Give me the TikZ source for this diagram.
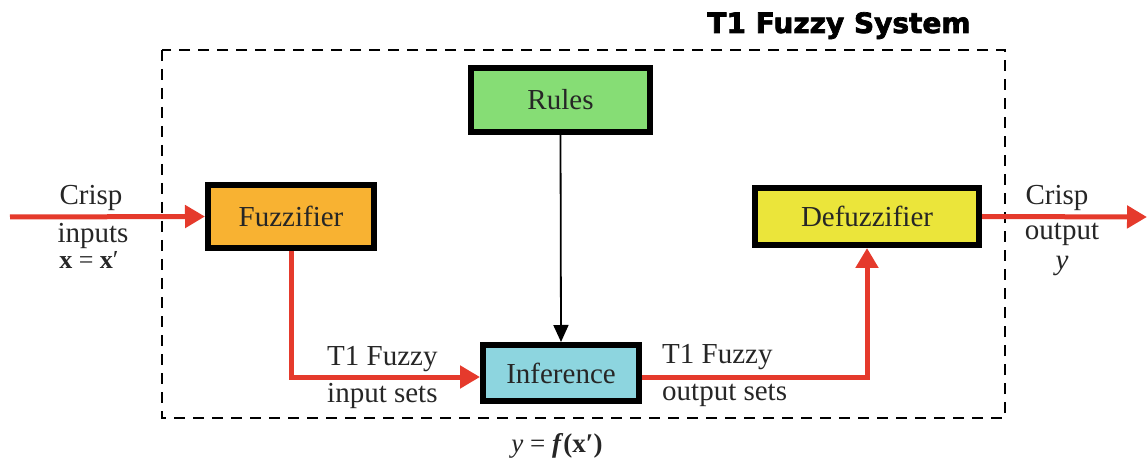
\documentclass[tikz,border=0pt]{standalone}
\usepackage{fontspec}
\setmainfont{Liberation Serif}
\newfontfamily\titlefont[FakeBold=2.5]{DejaVu Sans Bold}
\usetikzlibrary{arrows.meta}

\definecolor{fuzzorange}{HTML}{F8B232}
\definecolor{rulesgreen}{HTML}{86DD75}
\definecolor{infcyan}{HTML}{8DD5DF}
\definecolor{defuzyellow}{HTML}{EBE53A}
\definecolor{flowred}{HTML}{E53A2C}

\tikzset{
  block/.style={draw=black, line width=6pt, inner sep=0pt,
    font=\fontsize{29}{34}\selectfont, text=black!85},
  redflow/.style={draw=flowred, line width=5pt,
    -{Triangle[length=20pt,width=22pt]}},
  ruleflow/.style={draw=black, line width=1.8pt,
    -{Triangle[length=17pt,width=15pt]}},
  lbl/.style={inner sep=0pt, font=\fontsize{29}{34}\selectfont, text=black!85},
  frame/.style={draw=black, line width=2.5pt, dash pattern=on 11pt off 8pt}
}

\begin{document}
\begin{tikzpicture}[x=1pt,y=-1pt]
  \useasboundingbox (0,0) rectangle (1148,462);

  % system boundary
  \draw[frame] (162,50) rectangle (1005,418);
  \node[anchor=base, inner sep=0pt, font=\titlefont\fontsize{28}{32}\selectfont]
    (title) at (839,33) {T1 Fuzzy System};

  % blocks
  \node[block, fill=rulesgreen, minimum width=179pt, minimum height=64pt]
    (rules) at (560.5,100) {Rules};
  \node[block, fill=fuzzorange, minimum width=166pt, minimum height=63pt]
    (fuzz) at (291,216.5) {Fuzzifier};
  \node[block, fill=defuzyellow, minimum width=224pt, minimum height=57pt]
    (defuz) at (867,216.5) {Defuzzifier};
  \node[block, fill=infcyan, minimum width=156pt, minimum height=56pt]
    (inf) at (561,373) {Inference};

  % free ends of the crisp signals
  \coordinate (inL) at (10,217);
  \coordinate (outR) at (1147,217);

  % signal flow
  \draw[redflow] (inL) -- (fuzz.west);
  \draw[redflow] (fuzz.south) |- ([yshift=-4pt]inf.west);
  \draw[redflow] ([yshift=-4pt]inf.east) -| (defuz.south);
  \draw[redflow] (defuz.east) -- (outR);
  \draw[ruleflow] (rules.south) -- (inf.north);

  % signal labels
  \node[lbl, anchor=base] (crispin) at (91,205) {Crisp};
  \node[lbl, anchor=base] (inputs) at (93,243) {inputs};
  \node[lbl, anchor=base, font=\fontsize{26}{30}\selectfont] (xin) at (89,269) {\textbf{x} = \textbf{x}′};

  \node[lbl, anchor=base west] (t1in) at (327,365) {T1 Fuzzy};
  \node[lbl, anchor=base west] (insets) at (327,402) {input sets};
  \node[lbl, anchor=base west] (t1out) at (662,363) {T1 Fuzzy};
  \node[lbl, anchor=base west] (outsets) at (662,400) {output sets};

  \node[lbl, anchor=base] (crispout) at (1057,205) {Crisp};
  \node[lbl, anchor=base] (output) at (1062,240) {output};
  \node[lbl, anchor=base] (yout) at (1062,270) {\textit{y}};

  \node[lbl, anchor=base, font=\fontsize{27}{32}\selectfont] (mapping) at (557,452)
    {\textit{y} = \textbf{\textit{f}(x′)}};
\end{tikzpicture}
\end{document}
